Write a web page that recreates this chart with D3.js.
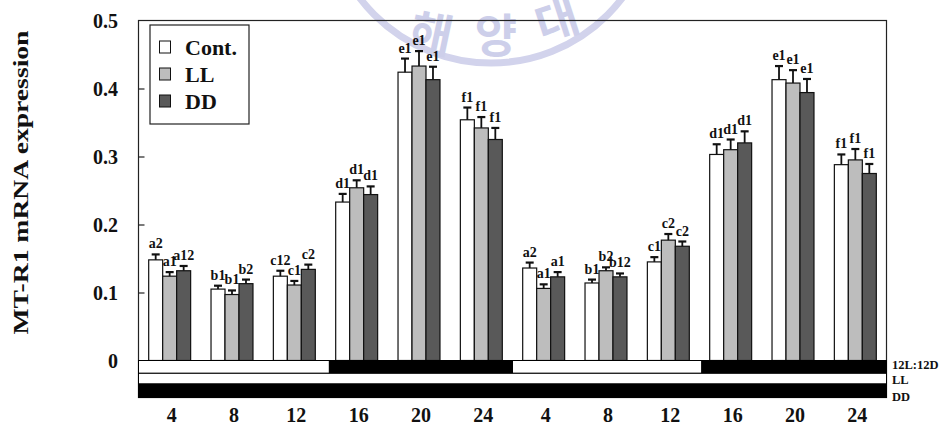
<!DOCTYPE html>
<html><head><meta charset="utf-8">
<script src="https://cdn.jsdelivr.net/npm/d3@7"></script>
<style>
html,body{margin:0;padding:0;background:#fff;}
svg{display:block;}
text{font-family:"Liberation Serif","Times New Roman",serif;font-weight:bold;}
</style></head>
<body>
<svg id="chart" width="949" height="428"></svg>
<script>
// ---------- data ----------
const categories = ["4","8","12","16","20","24","4","8","12","16","20","24"];
const seriesNames = ["Cont.","LL","DD"];
const contValues = [0.148,0.105,0.124,0.233,0.424,0.354,0.136,0.114,0.145,0.303,0.413,0.288];
const llValues   = [0.124,0.097,0.111,0.254,0.433,0.342,0.106,0.132,0.177,0.310,0.408,0.295];
const ddValues   = [0.132,0.113,0.134,0.244,0.413,0.325,0.123,0.123,0.168,0.320,0.394,0.275];
const contErr = [0.008,0.005,0.008,0.012,0.020,0.018,0.008,0.005,0.007,0.015,0.020,0.015];
const llErr   = [0.006,0.006,0.006,0.011,0.022,0.016,0.006,0.005,0.009,0.015,0.019,0.016];
const ddErr   = [0.007,0.006,0.007,0.012,0.019,0.017,0.007,0.005,0.007,0.017,0.020,0.014];
const contLetters = ["a2","b1","c12","d1","e1","f1","a2","b1","c1","d1","e1","f1"];
const llLetters   = ["a1","b1","c1","d1","e1","f1","a1","b2","c2","d1","e1","f1"];
const ddLetters   = ["a12","b2","c2","d1","e1","f1","a1","b12","c2","d1","e1","f1"];
const yTicks = [0,0.1,0.2,0.3,0.4,0.5];
const yTickLabels = ["0","0.1","0.2","0.3","0.4","0.5"];
// photoperiod rows (hours over the 48 h sampling span)
const lightDarkStarts = [0,12.25,24,36.15];
const lightDarkEnds   = [12.25,24,36.15,48];
const lightDarkIsLight = [true,false,true,false];
const rowLabels = ["12L:12D","LL","DD"];
const yTitle = "MT-R1 mRNA expression";

// ---------- layout ----------
(function(){
const colors = ["#ffffff","#bdbdbd","#595959"];
const pLeft = 138.5, pRight = 886.5, pTop = 20.5, zeroY = 360.5;
const svg = d3.select("#chart");

// watermark (faint)
const wm = svg.append("g").attr("fill","none");
wm.append("circle").attr("cx",491).attr("cy",-102).attr("r",165)
  .attr("stroke","#d2d3ec").attr("stroke-width",7);
const wmChars = [["해",428,50,12],["양",496,52,0],["대",562,36,-18]];
wm.selectAll("text").data(wmChars).enter().append("text")
  .attr("transform",d=>`translate(${d[1]},${d[2]}) rotate(${d[3]})`)
  .attr("text-anchor","middle")
  .style("font-family","'Noto Sans CJK KR'").style("font-weight","bold")
  .style("font-size","46px").attr("fill","#cdcfea").text(d=>d[0]);

const x0 = d3.scaleBand().domain(d3.range(categories.length))
  .range([pLeft,pRight]).paddingInner(0.327).paddingOuter(0.1635);
const x1 = d3.scaleBand().domain(d3.range(seriesNames.length)).range([0,x0.bandwidth()]);
const y = d3.scaleLinear().domain([0,0.5]).range([zeroY,pTop]);
const hours = d3.scaleLinear().domain([0,48]).range([pLeft,pRight]);

const values = [contValues,llValues,ddValues];
const errs = [contErr,llErr,ddErr];
const letters = [contLetters,llLetters,ddLetters];

const bars = [];
categories.forEach((c,i)=>seriesNames.forEach((s,j)=>bars.push({i,j,v:values[j][i],e:errs[j][i],l:letters[j][i]})));

// frame
svg.append("rect").attr("x",pLeft).attr("y",pTop).attr("width",pRight-pLeft).attr("height",397.5-pTop)
  .attr("fill","none").attr("stroke","#222").attr("stroke-width",1.2);

// y axis (inward ticks)
const yAxis = d3.axisRight(y).tickValues(yTicks.slice(1,5)).tickSize(6).tickFormat("");
const ya = svg.append("g").attr("transform",`translate(${pLeft},0)`).call(yAxis);
ya.select(".domain").remove();
ya.selectAll("line").attr("stroke","#222").attr("stroke-width",1.2);
svg.selectAll(".ylab").data(yTicks).enter().append("text")
  .attr("x",118).attr("y",d=>y(d)+7).attr("text-anchor","end")
  .style("font-size","20px").attr("fill","#111").text((d,k)=>yTickLabels[k]);

// y title
svg.append("text").attr("transform",`translate(28,182.5) rotate(-90)`)
  .attr("text-anchor","middle").style("font-size","22px").attr("fill","#111")
  .attr("textLength",304).attr("lengthAdjust","spacingAndGlyphs").text(yTitle);

// bars
const bx = d=>x0(d.i)+x1(d.j);
svg.append("g").selectAll("rect").data(bars).enter().append("rect")
  .attr("x",bx).attr("width",x1.bandwidth())
  .attr("y",d=>y(d.v)).attr("height",d=>y(0)-y(d.v))
  .attr("fill",d=>colors[d.j]).attr("stroke","#111").attr("stroke-width",1.2);

// error bars
const eb = svg.append("g").attr("stroke","#111").attr("stroke-width",1.8);
eb.selectAll(".ev").data(bars).enter().append("line")
  .attr("x1",d=>bx(d)+x1.bandwidth()/2).attr("x2",d=>bx(d)+x1.bandwidth()/2)
  .attr("y1",d=>y(d.v)).attr("y2",d=>y(d.v+d.e));
eb.selectAll(".ec").data(bars).enter().append("line")
  .attr("x1",d=>bx(d)+x1.bandwidth()/2-4).attr("x2",d=>bx(d)+x1.bandwidth()/2+4)
  .attr("y1",d=>y(d.v+d.e)).attr("y2",d=>y(d.v+d.e)).attr("stroke-width",2.2);

// letters
svg.append("g").selectAll("text").data(bars).enter().append("text")
  .attr("x",d=>bx(d)+x1.bandwidth()/2).attr("y",d=>y(d.v+d.e)-6)
  .attr("text-anchor","middle").style("font-size","14px").attr("fill","#111").text(d=>d.l);

// photoperiod rows
const rowTop = [360.5,373.3,384];
const rowBot = [373.3,384,397.5];
const pg = svg.append("g");
lightDarkStarts.forEach((s,k)=>{
  pg.append("rect").attr("x",hours(s)).attr("y",rowTop[0]).attr("width",hours(lightDarkEnds[k])-hours(s))
    .attr("height",rowBot[0]-rowTop[0]).attr("fill",lightDarkIsLight[k]?"#fff":"#000")
    .attr("stroke","#000").attr("stroke-width",1);
});
pg.append("rect").attr("x",hours(0)).attr("y",rowTop[1]).attr("width",hours(48)-hours(0))
  .attr("height",rowBot[1]-rowTop[1]).attr("fill","#fff").attr("stroke","#000").attr("stroke-width",1);
pg.append("rect").attr("x",hours(0)).attr("y",rowTop[2]).attr("width",hours(48)-hours(0))
  .attr("height",rowBot[2]-rowTop[2]).attr("fill","#000").attr("stroke","#000").attr("stroke-width",1);
const rowBase = [369,383.5,400.5];
svg.selectAll(".rowlab").data(rowLabels).enter().append("text")
  .attr("x",892).attr("y",(d,k)=>rowBase[k]).style("font-size","12.5px").attr("fill","#111").text(d=>d);

// x labels
const xAxis = d3.axisBottom(x0).tickSize(0).tickFormat(i=>categories[i]);
const xa = svg.append("g").attr("transform",`translate(2,404)`).call(xAxis);
xa.select(".domain").remove();
xa.selectAll("text").attr("dy",0).attr("y",17.5)
  .style("font-family","'Liberation Serif',serif").style("font-weight","bold")
  .style("font-size","20px").attr("fill","#111");

// legend
const lg = svg.append("g");
lg.append("rect").attr("x",150).attr("y",25).attr("width",99).attr("height",99)
  .attr("fill","#fff").attr("stroke","#222").attr("stroke-width",1.2);
const legY = [47,74,101];
seriesNames.forEach((s,k)=>{
  lg.append("rect").attr("x",159.5).attr("y",legY[k]-6).attr("width",11).attr("height",12)
    .attr("fill",colors[k]).attr("stroke","#111").attr("stroke-width",1);
  lg.append("text").attr("x",185).attr("y",legY[k]+8).style("font-size","22px").attr("fill","#111").text(s);
});
})();
</script>
</body></html>
